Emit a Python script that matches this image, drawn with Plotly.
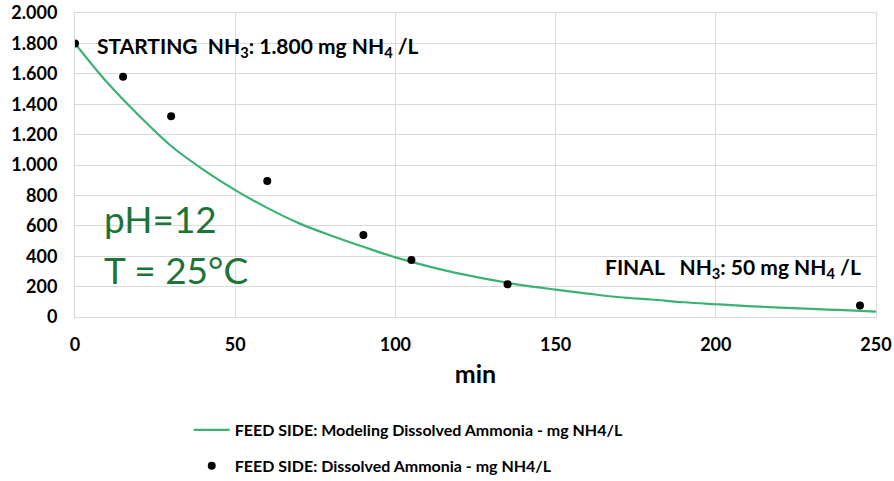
import plotly.graph_objects as go

# Measured points
t_meas = [0, 15, 30, 60, 90, 105, 135, 245]
nh4_meas = [1800, 1580, 1320, 895, 540, 375, 215, 75]

# Modelled curve
t_model = [0, 10, 20, 30, 40, 50, 60, 70, 80, 90, 100, 110, 120, 130, 140,
           150, 160, 170, 180, 190, 200, 210, 220, 230, 240, 250]
nh4_model = [1800, 1544, 1324, 1125, 970, 835, 718, 616, 535, 462, 392, 335,
             285, 244, 208, 180, 154, 130, 115, 97, 84, 72, 62, 53, 45, 36]

y_ticks = [0, 200, 400, 600, 800, 1000, 1200, 1400, 1600, 1800, 2000]
y_tick_labels = ["0", "200", "400", "600", "800", "1.000", "1.200", "1.400",
                 "1.600", "1.800", "2.000"]
x_ticks = [0, 50, 100, 150, 200, 250]

FONT = "Lato"
GREEN_LINE = "#3bb273"
GREEN_TEXT = "#1c7436"
GRID = "#d9d9d9"

fig = go.Figure()
fig.add_trace(go.Scatter(
    x=t_model, y=nh4_model, mode="lines", line=dict(color=GREEN_LINE, width=2.2, shape="spline"),
    name="FEED SIDE: Modeling Dissolved Ammonia - mg NH4/L", legendgroup="a"))
fig.add_trace(go.Scatter(
    x=t_meas, y=nh4_meas, mode="markers", marker=dict(color="black", size=8),
    name="FEED SIDE: Dissolved Ammonia - mg NH4/L", legendgroup="b"))

fig.add_annotation(x=6.2, y=1775, xref="x", yref="y", xanchor="left", yanchor="middle",
                   text="STARTING  NH<sub>3</sub>: 1.800 mg NH<sub>4</sub> /L", showarrow=False,
                   font=dict(family=FONT, size=21, color="black", weight="bold"))
fig.add_annotation(x=245.8, y=322, xref="x", yref="y", xanchor="right", yanchor="middle",
                   text="FINAL   NH<sub>3</sub>: 50 mg NH<sub>4</sub> /L", showarrow=False,
                   font=dict(family=FONT, size=21, color="black", weight="bold"))
fig.add_annotation(x=8.5, y=650, xref="x", yref="y", xanchor="left", yanchor="middle",
                   text="pH=12", showarrow=False,
                   font=dict(family=FONT, size=37, color=GREEN_TEXT))
fig.add_annotation(x=8.5, y=315, xref="x", yref="y", xanchor="left", yanchor="middle",
                   text="T = 25°C", showarrow=False,
                   font=dict(family=FONT, size=37, color=GREEN_TEXT))

fig.update_layout(
    width=894, height=481,
    margin=dict(l=75, r=18, t=13, b=164, autoexpand=False),
    paper_bgcolor="white", plot_bgcolor="white",
    font=dict(family=FONT, color="black"),
    showlegend=True,
    legend=dict(orientation="v", x=0.142, xanchor="left", y=-0.316, yanchor="top",
                font=dict(family=FONT, size=16, color="black", weight="bold"),
                tracegroupgap=12, itemwidth=36),
    xaxis=dict(range=[0, 250], tickvals=x_ticks, showgrid=True, gridcolor=GRID,
               zeroline=False, showline=True, mirror=True, linecolor=GRID, ticks="",
               automargin=False, ticklabelstandoff=11,
               tickfont=dict(family=FONT, size=18, weight="bold"),
               title=dict(text="min", font=dict(family=FONT, size=25, weight="bold"), standoff=11)),
    yaxis=dict(range=[0, 2000], tickvals=y_ticks, ticktext=y_tick_labels, showgrid=True,
               gridcolor=GRID, zeroline=False, showline=True, linecolor=GRID,
               mirror=True, ticks="", ticklabelstandoff=13, automargin=False,
               tickfont=dict(family=FONT, size=18, weight="bold")),
)

fig.write_html("out.html", config={"displayModeBar": False},
               post_script="document.body.style.margin='0';document.body.style.overflow='hidden';")
